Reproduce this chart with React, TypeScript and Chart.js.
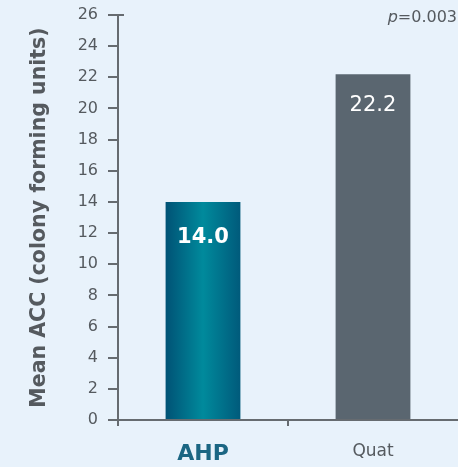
import React, { useEffect, useRef } from "react";
import { Chart, registerables } from "chart.js";

Chart.register(...registerables);

const categories = ["AHP", "Quat"];
const values = [14.0, 22.2];
const valueLabels = ["14.0", "22.2"];
const yTitle = "Mean ACC (colony forming units)";
const pPrefix = "p";
const pSuffix = "=0.003";

const BG = "#e8f2fb";
const AXIS = "#666b70";
const TEXT = "#555a5f";
const FONT = "'DejaVu Sans', sans-serif";

const overlayPlugin = {
  id: "overlay",
  afterDatasetsDraw(chart: any) {
    const ctx = chart.ctx;
    const meta = chart.getDatasetMeta(0);
    ctx.save();
    ctx.fillStyle = "#ffffff";
    ctx.textAlign = "center";
    ctx.textBaseline = "middle";
    meta.data.forEach((bar: any, i: number) => {
      ctx.font = i === 0 ? "bold 21px " + FONT : "21px " + FONT;
      ctx.fillText(valueLabels[i], bar.x, bar.y + (i === 0 ? 36 : 31));
    });
    const ys = chart.scales.y;
    ctx.strokeStyle = AXIS;
    ctx.lineWidth = 2;
    ctx.beginPath();
    ctx.moveTo(ys.right, ys.top);
    ctx.lineTo(ys.right + 6, ys.top);
    ctx.stroke();
    ctx.fillStyle = TEXT;
    ctx.textBaseline = "middle";
    ctx.textAlign = "left";
    ctx.font = "16px " + FONT;
    const sw = ctx.measureText(pSuffix).width;
    ctx.font = "oblique 16px " + FONT;
    const pw = ctx.measureText(pPrefix).width;
    const xEnd = chart.width - 1;
    const x0 = xEnd - sw - pw;
    ctx.fillText(pPrefix, x0, 18);
    ctx.font = "16px " + FONT;
    ctx.fillText(pSuffix, x0 + pw, 18);
    ctx.restore();
  },
};

export default function App() {
  const ref = useRef<HTMLCanvasElement>(null);
  useEffect(() => {
    document.body.style.margin = "0";
    document.body.style.background = BG;
    const chart = new Chart(ref.current!, {
      type: "bar",
      data: {
        labels: categories,
        datasets: [
          {
            data: values,
            backgroundColor: (c: any) => {
              const ch = c.chart;
              if (c.dataIndex !== 0) return "#5a6670";
              const xs = ch.scales && ch.scales.x;
              if (!xs) return "#00748c";
              const cx = xs.getPixelForValue(0);
              const w = ((xs.right - xs.left) / categories.length) * 0.44;
              if (!isFinite(cx) || !isFinite(w) || w <= 0) return "#00748c";
              const g = ch.ctx.createLinearGradient(cx - w / 2, 0, cx + w / 2, 0);
              g.addColorStop(0, "#005275");
              g.addColorStop(0.5, "#008a9c");
              g.addColorStop(1, "#005a7b");
              return g;
            },
            borderWidth: 0,
            barPercentage: 0.44,
            categoryPercentage: 1,
          },
        ],
      },
      options: {
        responsive: false,
        animation: false,
        maintainAspectRatio: false,
        layout: { padding: { top: 15, right: 0, bottom: 0, left: 0 } },
        plugins: { legend: { display: false }, tooltip: { enabled: false } },
        scales: {
          x: {
            grid: {
              display: true,
              drawOnChartArea: false,
              offset: true,
              color: (c: any) => (c.type === "tick" ? AXIS : "rgba(0,0,0,0)"),
              lineWidth: 2,
              tickLength: 6,
            },
            border: { display: true, color: AXIS, width: 2 },
            ticks: {
              padding: 15,
              color: (c: any) => (c.index === 0 ? "#1b6683" : TEXT),
              font: (c: any) =>
                c.index === 0
                  ? { family: FONT, size: 22, weight: "bold" }
                  : { family: FONT, size: 17, weight: "normal" },
            },
            afterFit: (s: any) => {
              s.height = 47;
            },
          },
          y: {
            min: 0,
            max: 26,
            ticks: {
              stepSize: 2,
              padding: 10,
              color: TEXT,
              font: { family: FONT, size: 16 },
            },
            grid: {
              display: true,
              drawOnChartArea: false,
              color: AXIS,
              lineWidth: 2,
              tickLength: 10,
            },
            border: { display: true, color: AXIS, width: 2 },
            title: {
              display: true,
              text: yTitle,
              color: TEXT,
              font: { family: FONT, size: 20.5, weight: "bold" },
              padding: { top: 27, bottom: 0 },
            },
            afterFit: (s: any) => {
              s.width = 118;
              s.paddingTop = 0;
              s.paddingBottom = 0;
            },
          },
        },
      },
      plugins: [overlayPlugin],
    });
    return () => chart.destroy();
  }, []);
  return (
    <div style={{ width: 458, height: 467, background: BG }}>
      <canvas ref={ref} width={458} height={467} />
    </div>
  );
}
